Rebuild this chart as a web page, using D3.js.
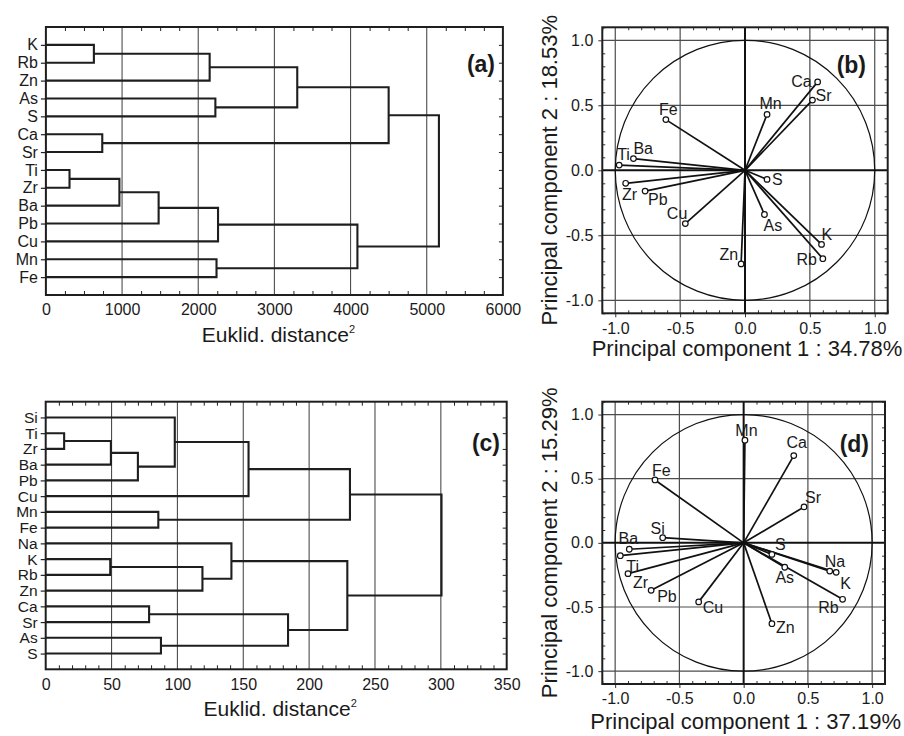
<!DOCTYPE html>
<html><head><meta charset="utf-8">
<script src="https://cdn.jsdelivr.net/npm/d3@7"></script>
<style>
body{margin:0;background:#fff}
text{font-family:"Liberation Sans",Arial,Helvetica,sans-serif;fill:#1a1a1a}
</style>
</head><body><svg id="chart" width="904" height="736"></svg>
<script>
// ---------- DATA ----------
// Panel (a): dendrogram leaves (top to bottom) and merges [childA, childB, distance]; "#n" = n-th merge
const leavesA = ["K","Rb","Zn","As","S","Ca","Sr","Ti","Zr","Ba","Pb","Cu","Mn","Fe"];
const mergesA = [
  ["K","Rb",630], ["#0","Zn",2150], ["As","S",2225], ["#1","#2",3300],
  ["Ca","Sr",740], ["#3","#4",4500], ["Ti","Zr",310], ["#6","Ba",965],
  ["#7","Pb",1480], ["#8","Cu",2260], ["Mn","Fe",2240], ["#9","#10",4090],
  ["#5","#11",5160]
];
const ticksA = [0,1000,2000,3000,4000,5000,6000];

// Panel (c)
const leavesC = ["Si","Ti","Zr","Ba","Pb","Cu","Mn","Fe","Na","K","Rb","Zn","Ca","Sr","As","S"];
const mergesC = [
  ["Ti","Zr",14], ["#0","Ba",49.5], ["#1","Pb",70], ["Si","#2",98], ["#3","Cu",154],
  ["Mn","Fe",85.5], ["#4","#5",231], ["K","Rb",49], ["#7","Zn",119], ["Na","#8",141],
  ["Ca","Sr",78.5], ["As","S",87.5], ["#10","#11",184], ["#9","#12",229], ["#6","#13",300.5]
];
const ticksC = [0,50,100,150,200,250,300,350];

// Panel (b): PCA loadings
const varsB = ["Ca","Sr","Mn","Fe","Ba","Ti","Zr","Pb","S","Cu","As","K","Rb","Zn"];
const pc1B  = [0.56,0.52,0.17,-0.61,-0.86,-0.97,-0.92,-0.77,0.17,-0.46,0.15,0.59,0.60,-0.03];
const pc2B  = [0.68,0.54,0.43,0.39,0.09,0.04,-0.10,-0.16,-0.07,-0.41,-0.34,-0.57,-0.68,-0.72];

// Panel (d): PCA loadings
const varsD = ["Mn","Ca","Fe","Sr","Si","Ba","Ti","S","Zr","Pb","Cu","Zn","As","Na","K","Rb"];
const pc1D  = [0.01,0.39,-0.69,0.47,-0.63,-0.89,-0.96,0.22,-0.90,-0.72,-0.35,0.22,0.32,0.67,0.72,0.77];
const pc2D  = [0.80,0.68,0.49,0.28,0.04,-0.05,-0.10,-0.09,-0.24,-0.37,-0.46,-0.63,-0.19,-0.22,-0.23,-0.44];

const pcaTicks = [-1,-0.5,0,0.5,1];

// ---------- LABEL PLACEMENT (style only) ----------
const labPosB = {Ca:["end",-6,5],Sr:["start",3,1],Mn:["middle",3.5,-5],Fe:["middle",2.5,-5],
  Ti:["start",-2,-5],Ba:["start",0,-5],Zr:["middle",4,17],Pb:["start",3,14],S:["start",5,6],
  Cu:["end",2,-5],As:["start",-1,16],K:["start",0,-4],Rb:["end",-6,6],Zn:["end",-3,-4]};
const labPosD = {Mn:["middle",1.5,-4],Ca:["middle",3,-8],Fe:["start",-3,-4],Sr:["start",1,-4],
  Si:["middle",-5,-4],Ba:["middle",-1,-5],Ti:["start",6,16],S:["start",3,-4],Zr:["start",5,14],
  Pb:["start",6,12],Cu:["start",4,11],Zn:["start",4,9],As:["middle",0,16],Na:["start",-5,-4],
  K:["start",4,17],Rb:["end",-4,14]};

// ---------- DRAW ----------
const svg = d3.select("#chart");
svg.append("rect").attr("width",904).attr("height",736).attr("fill","#fff");
const fmt1 = d => d.toFixed(1);

function dendrogram(o){
  const g = svg.append("g");
  const x = d3.scaleLinear().domain([0,o.max]).range([o.x0,o.x1]);
  const y = d3.scaleLinear().domain([0,o.leaves.length+1]).range([o.y0,o.y1]);
  const idx = d3.range(1,o.leaves.length+1);
  g.selectAll(null).data(o.ticks.filter(t=>t>0&&t<o.max)).join("line")
    .attr("x1",d=>x(d)).attr("x2",d=>x(d)).attr("y1",o.y0).attr("y2",o.y1)
    .attr("stroke","#4d4d4d").attr("stroke-width",1.1);
  const minors = d3.range(0,o.max+1e-9,o.minor).filter(v=>!o.ticks.includes(v));
  g.append("g").attr("transform",`translate(0,${o.y1})`)
    .call(d3.axisBottom(x).tickValues(minors).tickSize(-4).tickFormat(""))
    .call(a=>a.select(".domain").remove());
  g.append("g").attr("transform",`translate(0,${o.y0})`)
    .call(d3.axisTop(x).tickValues(minors).tickSize(-4).tickFormat(""))
    .call(a=>a.select(".domain").remove());
  g.append("g").attr("transform",`translate(0,${o.y1})`)
    .call(d3.axisBottom(x).tickValues(o.ticks).tickSize(0).tickPadding(o.tickPad).tickFormat(d3.format("d")))
    .call(a=>a.select(".domain").remove())
    .call(a=>a.selectAll("text").attr("font-size",16).attr("fill","#1a1a1a"));
  g.append("g").attr("transform",`translate(${o.x0},0)`)
    .call(d3.axisLeft(y).tickValues(idx).tickSize(5).tickPadding(3).tickFormat(i=>o.leaves[i-1]))
    .call(a=>a.select(".domain").remove())
    .call(a=>a.selectAll("line").attr("stroke","#222").attr("stroke-width",1.2))
    .call(a=>a.selectAll("text").attr("font-size",o.leafFont).attr("fill","#1a1a1a"));
  g.append("g").attr("transform",`translate(${o.x1},0)`)
    .call(d3.axisRight(y).tickValues(idx).tickSize(-4).tickFormat(""))
    .call(a=>a.select(".domain").remove());
  g.selectAll(".tick line").attr("stroke","#222");
  const pos = {};
  o.leaves.forEach((l,i)=>pos[l]={y:y(i+1),h:0});
  const nodes = [];
  const get = k => k[0]==="#" ? nodes[+k.slice(1)] : pos[k];
  o.merges.forEach(([a,b,h])=>{
    const A=get(a), B=get(b);
    nodes.push({y:(A.y+B.y)/2,h:h,a:A,b:B});
  });
  g.selectAll(null).data(nodes).join("path")
    .attr("d",n=>`M${x(n.a.h)},${n.a.y}H${x(n.h)}V${n.b.y}H${x(n.b.h)}`)
    .attr("fill","none").attr("stroke","#1e1e1e").attr("stroke-width",2.1);
  g.append("rect").attr("x",o.x0).attr("y",o.y0).attr("width",o.x1-o.x0).attr("height",o.y1-o.y0)
    .attr("fill","none").attr("stroke","#1e1e1e").attr("stroke-width",2);
  const t = g.append("text").attr("x",(o.x0+o.x1)/2+4).attr("y",o.titleY).attr("text-anchor","middle")
    .attr("font-size",21);
  t.append("tspan").text("Euklid. distance");
  t.append("tspan").attr("dy",-9).attr("font-size",11).text("2");
  g.append("text").attr("x",o.tagX).attr("y",o.tagY).attr("text-anchor","end")
    .attr("font-size",23).attr("font-weight","bold").text(o.tag);
}

function pca(o){
  const g = svg.append("g");
  const x = d3.scaleLinear().domain([-1.1,1.1]).range([o.x0,o.x1]);
  const y = d3.scaleLinear().domain([-1.1,1.1]).range([o.y1,o.y0]);
  const grid = pcaTicks.filter(t=>t!==0);
  g.selectAll(null).data(grid).join("line")
    .attr("x1",d=>x(d)).attr("x2",d=>x(d)).attr("y1",o.y0).attr("y2",o.y1)
    .attr("stroke","#4d4d4d").attr("stroke-width",1.2);
  g.selectAll(null).data(grid).join("line")
    .attr("y1",d=>y(d)).attr("y2",d=>y(d)).attr("x1",o.x0).attr("x2",o.x1)
    .attr("stroke","#4d4d4d").attr("stroke-width",1.2);
  g.append("line").attr("x1",x(0)).attr("x2",x(0)).attr("y1",o.y0).attr("y2",o.y1)
    .attr("stroke","#111").attr("stroke-width",2);
  g.append("line").attr("y1",y(0)).attr("y2",y(0)).attr("x1",o.x0).attr("x2",o.x1)
    .attr("stroke","#111").attr("stroke-width",2);
  g.append("ellipse").attr("cx",x(0)).attr("cy",y(0)).attr("rx",x(1)-x(0)).attr("ry",y(0)-y(1))
    .attr("fill","none").attr("stroke","#111").attr("stroke-width",1.2);
  const minors = d3.range(-11,12).map(v=>v/10).filter(v=>Math.abs(v*2-Math.round(v*2))>1e-6);
  const noDom = a=>a.select(".domain").remove();
  g.append("g").attr("transform",`translate(0,${o.y1})`).call(d3.axisBottom(x).tickValues(minors).tickSize(-3).tickFormat("")).call(noDom);
  g.append("g").attr("transform",`translate(0,${o.y0})`).call(d3.axisTop(x).tickValues(minors).tickSize(-3).tickFormat("")).call(noDom);
  g.append("g").attr("transform",`translate(${o.x0},0)`).call(d3.axisLeft(y).tickValues(minors).tickSize(-3).tickFormat("")).call(noDom);
  g.append("g").attr("transform",`translate(${o.x1},0)`).call(d3.axisRight(y).tickValues(minors).tickSize(-3).tickFormat("")).call(noDom);
  g.append("g").attr("transform",`translate(0,${o.y1})`)
    .call(d3.axisBottom(x).tickValues(pcaTicks).tickSize(4).tickPadding(5).tickFormat(fmt1)).call(noDom)
    .call(a=>a.selectAll("text").attr("font-size",16).attr("fill","#1a1a1a"));
  g.append("g").attr("transform",`translate(${o.x0},0)`)
    .call(d3.axisLeft(y).tickValues(pcaTicks).tickSize(4).tickPadding(5).tickFormat(fmt1)).call(noDom)
    .call(a=>a.selectAll("text").attr("font-size",16).attr("fill","#1a1a1a"));
  g.selectAll(".tick line").attr("stroke","#333");
  const pts = o.vars.map((v,i)=>({v, px:o.pc1[i], py:o.pc2[i]}));
  g.selectAll(null).data(pts).join("line")
    .attr("x1",x(0)).attr("y1",y(0)).attr("x2",d=>x(d.px)).attr("y2",d=>y(d.py))
    .attr("stroke","#111").attr("stroke-width",1.7);
  g.selectAll(null).data(pts).join("circle")
    .attr("cx",d=>x(d.px)).attr("cy",d=>y(d.py)).attr("r",2.8)
    .attr("fill","#fff").attr("stroke","#111").attr("stroke-width",1.2);
  g.selectAll(null).data(pts).join("text")
    .attr("x",d=>x(d.px)+o.lab[d.v][1]).attr("y",d=>y(d.py)+o.lab[d.v][2])
    .attr("text-anchor",d=>o.lab[d.v][0]).attr("font-size",16).text(d=>d.v);
  g.append("rect").attr("x",o.x0).attr("y",o.y0).attr("width",o.x1-o.x0).attr("height",o.y1-o.y0)
    .attr("fill","none").attr("stroke","#1e1e1e").attr("stroke-width",2);
  g.append("text").attr("x",(o.x0+o.x1)/2+2).attr("y",o.xTitleY).attr("text-anchor","middle")
    .attr("font-size",22).text(o.xTitle);
  g.append("text").attr("transform",`translate(${o.yTitleX},${(o.y0+o.y1)/2}) rotate(-90)`)
    .attr("text-anchor","middle").attr("font-size",22).text(o.yTitle);
  g.append("text").attr("x",o.tagX).attr("y",o.tagY).attr("text-anchor","end")
    .attr("font-size",23).attr("font-weight","bold").text(o.tag);
}

dendrogram({leaves:leavesA, merges:mergesA, ticks:ticksA, max:6000, minor:250,
  x0:45.9, x1:502.9, y0:27, y1:295, leafFont:16, tickPad:9, titleY:342, tag:"(a)", tagX:495, tagY:72});
dendrogram({leaves:leavesC, merges:mergesC, ticks:ticksC, max:350, minor:10,
  x0:45.7, x1:506.7, y0:401.7, y1:669.3, leafFont:15.5, tickPad:9, titleY:716, tag:"(c)", tagX:500, tagY:451});
pca({vars:varsB, pc1:pc1B, pc2:pc2B, lab:labPosB, x0:602.3, x1:887.7, y0:27.3, y1:313.3,
  xTitle:"Principal component 1 : 34.78%", yTitle:"Principal component 2 : 18.53%",
  xTitleY:356, yTitleX:557, tag:"(b)", tagX:866, tagY:73});
pca({vars:varsD, pc1:pc1D, pc2:pc2D, lab:labPosD, x0:602.3, x1:885, y0:401.7, y1:684,
  xTitle:"Principal component 1 : 37.19%", yTitle:"Principal component 2 : 15.29%",
  xTitleY:729, yTitleX:557, tag:"(d)", tagX:869, tagY:452});
</script>
</body></html>
